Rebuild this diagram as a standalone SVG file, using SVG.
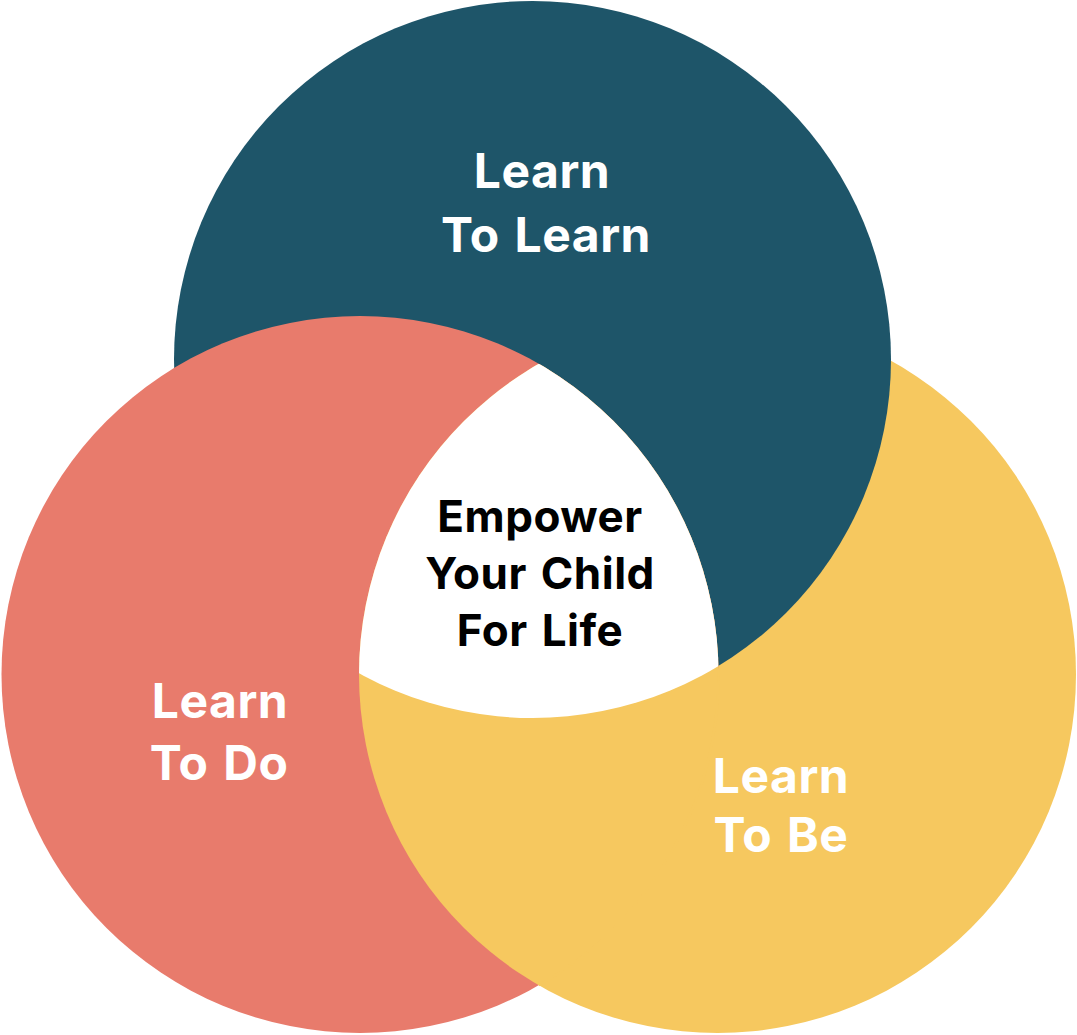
<svg xmlns="http://www.w3.org/2000/svg" width="1077" height="1035" viewBox="0 0 1077 1035">
  <style>
    .lbl { font-family: Inter, "Liberation Sans", sans-serif; font-weight: 700; font-size: 48px; fill: #ffffff; text-anchor: middle; letter-spacing: 0.5px; word-spacing: 3px; }
    .mid { font-family: Inter, "Liberation Sans", sans-serif; font-weight: 700; font-size: 44px; fill: #000000; text-anchor: middle; letter-spacing: 0.5px; word-spacing: 3px; }
  </style>
  <defs>
    <clipPath id="clipRed"><circle cx="360" cy="674.5" r="358.5"/></clipPath>
    <clipPath id="clipTeal"><circle cx="532.5" cy="359.5" r="358.5"/></clipPath>
  </defs>
  <rect width="1077" height="1035" fill="#ffffff"/>
  <g id="circle-be">
    <circle cx="717.5" cy="674.5" r="358.5" fill="#F6C85F"/>
  </g>
  <g id="circle-learn">
    <circle cx="532.5" cy="359.5" r="358.5" fill="#1E5569"/>
  </g>
  <g id="circle-do">
    <circle cx="360" cy="674.5" r="358.5" fill="#E87B6C"/>
  </g>
  <g id="overlap-be-do">
    <g clip-path="url(#clipRed)">
      <circle cx="717.5" cy="674.5" r="358.5" fill="#F6C85F"/>
    </g>
    <path d="M 718.45 668.24 A 358.5 358.5 0 0 1 538.75 985.26" fill="none" stroke="#F6C85F" stroke-width="2.5"/>
  </g>
  <g id="center" clip-path="url(#clipRed)">
    <g clip-path="url(#clipTeal)">
      <circle cx="717.5" cy="674.5" r="358.5" fill="#ffffff"/>
    </g>
  </g>
  <g id="connectors"></g>
  <g id="label-learn">
    <text class="lbl" x="542" y="188">Learn</text>
    <text class="lbl" x="546" y="252">To Learn</text>
  </g>
  <g id="label-do">
    <text class="lbl" x="220" y="718">Learn</text>
    <text class="lbl" x="219" y="780">To Do</text>
  </g>
  <g id="label-be">
    <text class="lbl" x="781" y="793">Learn</text>
    <text class="lbl" x="781" y="852">To Be</text>
  </g>
  <g id="label-center">
    <text class="mid" x="540" y="532">Empower</text>
    <text class="mid" x="540" y="589">Your Child</text>
    <text class="mid" x="540" y="646">For Life</text>
  </g>
</svg>
